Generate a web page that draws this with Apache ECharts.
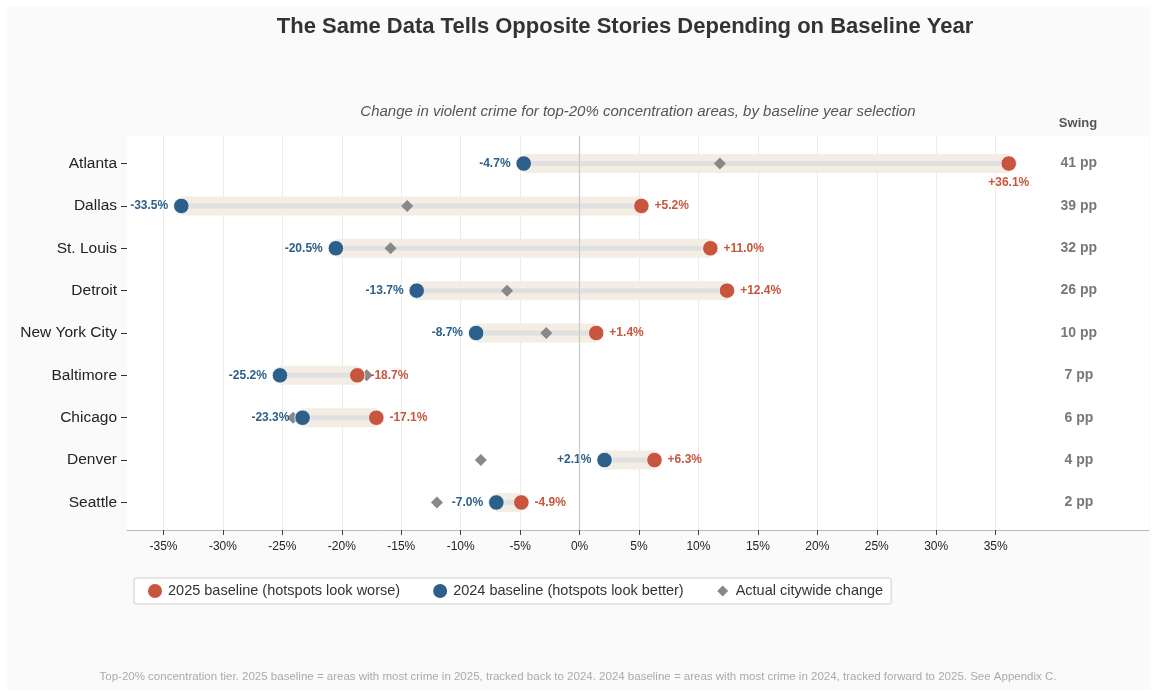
<!DOCTYPE html>
<html>
<head>
<meta charset="utf-8">
<script src="https://cdn.jsdelivr.net/npm/echarts@6/dist/echarts.min.js"></script>
<style>
  html, body { margin: 0; padding: 0; background: #ffffff; }
  #bg { position: absolute; left: 7px; top: 7px; width: 1143px; height: 683px; background: #fafafa; }
  #chart { position: absolute; left: 0; top: 0; width: 1154px; height: 692px; }
</style>
</head>
<body>
<div id="bg"></div>
<div id="chart"></div>
<script>
// ---- data ----
const cities = ['Atlanta', 'Dallas', 'St. Louis', 'Detroit', 'New York City', 'Baltimore', 'Chicago', 'Denver', 'Seattle'];
const baseline2025 = [36.1, 5.2, 11.0, 12.4, 1.4, -18.7, -17.1, 6.3, -4.9];
const baseline2024 = [-4.7, -33.5, -20.5, -13.7, -8.7, -25.2, -23.3, 2.1, -7.0];
const citywide = [11.8, -14.5, -15.9, -6.1, -2.8, -17.9, -24.1, -8.3, -12.0];
const swing = [41, 39, 32, 26, 10, 7, 6, 4, 2];
const xTicks = [-35, -30, -25, -20, -15, -10, -5, 0, 5, 10, 15, 20, 25, 30, 35];
const redLabelBelow = ['Atlanta'];

const RED = '#c8553d', BLUE = '#2c5f8a', GRAY = '#888888';
const FONT = 'Liberation Sans, Arial, Helvetica, sans-serif';
const swingX = 42.0;
const NAME_RED = '2025 baseline (hotspots look worse)';
const NAME_BLUE = '2024 baseline (hotspots look better)';
const NAME_GRAY = 'Actual citywide change';
// legend diamond icon, padded inside a 16x16 box via degenerate corner segments
const DIAMOND_ICON = 'path://M0,0L0.01,0L0,0.01ZM16,16L15.99,16L16,15.99ZM8,2.5L13.5,8L8,13.5L2.5,8Z';

function fmt(v) { return (v > 0 ? '+' : '') + v.toFixed(1) + '%'; }

const chart = echarts.init(document.getElementById('chart'), null, { renderer: 'canvas' });

const bandData = cities.map((c, i) => [Math.min(baseline2024[i], baseline2025[i]), Math.max(baseline2024[i], baseline2025[i]), i]);

const option = {
  backgroundColor: 'transparent',
  animation: false,
  textStyle: { fontFamily: FONT },
  grid: { left: 127, right: 5, top: 136, bottom: 162, show: true, backgroundColor: '#ffffff', borderWidth: 0 },
  xAxis: {
    type: 'value', min: -38.07, max: 47.9,
    axisLine: { show: true, onZero: false, lineStyle: { color: '#bbbbbb', width: 1 } },
    axisTick: { show: true, length: 5, lineStyle: { color: '#444' }, customValues: xTicks },
    axisLabel: { customValues: xTicks, formatter: v => v + '%', color: '#222', fontSize: 12, margin: 11, fontFamily: FONT },
    splitLine: { show: true, lineStyle: { color: '#ebebeb', width: 1 } }
  },
  yAxis: {
    type: 'value', inverse: true, min: -0.65, max: 8.65,
    axisLine: { show: false, onZero: false },
    axisTick: { show: true, length: 6, lineStyle: { color: '#333' }, customValues: cities.map((c, i) => i) },
    axisLabel: { customValues: cities.map((c, i) => i), formatter: v => cities[Math.round(v)] || '', color: '#222', fontSize: 15.5, margin: 10, fontFamily: FONT },
    splitLine: { show: false }
  },
  legend: {
    data: [
      { name: NAME_RED, icon: 'circle' },
      { name: NAME_BLUE, icon: 'circle' },
      { name: NAME_GRAY, icon: DIAMOND_ICON }
    ],
    left: 134, top: 578,
    orient: 'horizontal',
    itemWidth: 16, itemHeight: 16, itemGap: 31,
    padding: [4, 8, 4, 12],
    backgroundColor: '#ffffff', borderColor: '#cccccc', borderWidth: 1, borderRadius: 2,
    selectedMode: false,
    textStyle: { fontSize: 14.5, color: '#333', fontFamily: FONT }
  },
  graphic: [
    { type: 'text', x: 625, y: 27, style: { text: 'The Same Data Tells Opposite Stories Depending on Baseline Year', font: 'bold 22px ' + FONT, fill: '#333', textAlign: 'center', textVerticalAlign: 'middle' } },
    { type: 'text', x: 638, y: 112, style: { text: 'Change in violent crime for top-20% concentration areas, by baseline year selection', font: 'italic 15px ' + FONT, fill: '#555', textAlign: 'center', textVerticalAlign: 'middle' } },
    { type: 'text', x: 1078, y: 123, style: { text: 'Swing', font: 'bold 13px ' + FONT, fill: '#555', textAlign: 'center', textVerticalAlign: 'middle' } },
    { type: 'text', x: 578, y: 677, style: { text: 'Top-20% concentration tier. 2025 baseline = areas with most crime in 2025, tracked back to 2024. 2024 baseline = areas with most crime in 2024, tracked forward to 2025. See Appendix C.', font: '11.5px ' + FONT, fill: '#aaaaaa', textAlign: 'center', textVerticalAlign: 'middle' } }
  ],
  series: [
    {
      type: 'line', name: 'zero', data: [], silent: true, z: 1,
      markLine: { silent: true, symbol: 'none', label: { show: false }, lineStyle: { color: '#c8c8c8', width: 1.2, type: 'solid' }, data: [{ xAxis: 0 }] }
    },
    {
      type: 'custom', name: 'band', silent: true, z: 2,
      data: bandData,
      renderItem: function (params, api) {
        const p1 = api.coord([api.value(0), api.value(2)]);
        const p2 = api.coord([api.value(1), api.value(2)]);
        return {
          type: 'group',
          children: [
            { type: 'rect', shape: { x: p1[0], y: p1[1] - 9.5, width: p2[0] - p1[0], height: 19 }, style: { fill: '#f3ede4' } },
            { type: 'rect', shape: { x: p1[0], y: p1[1] - 2.5, width: p2[0] - p1[0], height: 5 }, style: { fill: '#e0e0e0' } }
          ]
        };
      }
    },
    {
      type: 'scatter', name: NAME_GRAY, z: 3,
      symbol: 'diamond', symbolSize: 12, symbolKeepAspect: true,
      itemStyle: { color: GRAY, opacity: 1 },
      data: citywide.map((v, i) => [v, i])
    },
    {
      type: 'scatter', name: NAME_BLUE, z: 4,
      symbol: 'circle', symbolSize: 15.5,
      itemStyle: { color: BLUE, borderColor: '#ffffff', borderWidth: 0.8, opacity: 1 },
      label: { show: true, position: 'left', distance: 5, formatter: p => fmt(p.value[0]), color: BLUE, fontWeight: 'bold', fontSize: 12, fontFamily: FONT },
      data: baseline2024.map((v, i) => [v, i])
    },
    {
      type: 'scatter', name: NAME_RED, z: 4,
      symbol: 'circle', symbolSize: 15.5,
      itemStyle: { color: RED, borderColor: '#ffffff', borderWidth: 0.8, opacity: 1 },
      label: { show: true, position: 'right', distance: 5, formatter: p => fmt(p.value[0]), color: RED, fontWeight: 'bold', fontSize: 12, fontFamily: FONT },
      data: baseline2025.map((v, i) => redLabelBelow.includes(cities[i])
        ? { value: [v, i], label: { position: 'bottom', distance: 5 } }
        : [v, i])
    },
    {
      type: 'scatter', name: 'swing', z: 4, silent: true,
      symbolSize: 0,
      label: { show: true, position: 'inside', formatter: p => swing[p.dataIndex] + ' pp', color: '#555', fontWeight: 'bold', fontSize: 14, fontFamily: FONT },
      data: swing.map((v, i) => [swingX, i])
    }
  ]
};

chart.setOption(option);
</script>
</body>
</html>
